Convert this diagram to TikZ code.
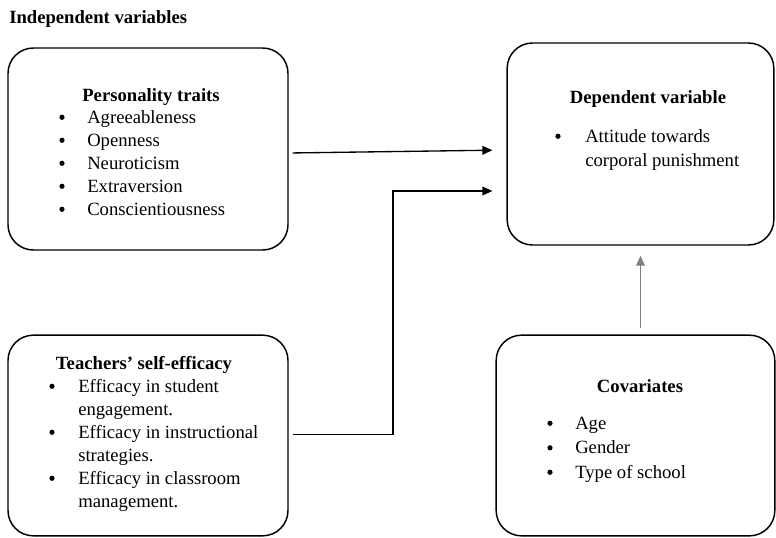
\documentclass[tikz,border=0pt]{standalone}
\usepackage{fontspec}
\setmainfont{Liberation Serif}
\usetikzlibrary{arrows.meta}

\begin{document}
\begin{tikzpicture}[
        x=0.75pt, y=-0.75pt,
        box/.style={
            draw,
            rectangle,
            rounded corners=19pt,
            line width=1.1pt,
            inner sep=0pt
        },
        head/.style={anchor=base, inner sep=0pt, font=\fontsize{14}{17}\selectfont\bfseries},
        item/.style={anchor=base west, inner sep=0pt, font=\fontsize{14}{17}\selectfont},
        bul/.style={circle, fill, inner sep=0pt, minimum size=3.9pt, yshift=4.3pt},
        arrow/.style={-{Triangle[length=7.5pt,width=6.5pt]}, line width=1pt}
    ]
        \useasboundingbox (0,0) rectangle (776,537);

        % Title
        \node[item, font=\fontsize{14}{17}\selectfont\bfseries] (title) at (9,23) {Independent variables};

        % Boxes
        \node[box, minimum width=210pt, minimum height=151.5pt] (pers) at (148,149) {};
        \node[box, minimum width=200pt, minimum height=151.5pt] (dep) at (640.5,144) {};
        \node[box, minimum width=210pt, minimum height=150.5pt] (teach) at (148,435.5) {};
        \node[box, minimum width=209pt, minimum height=150.5pt] (cov) at (635.5,435.5) {};

        % Personality traits
        \node[head] (pers-h) at (151,101) {Personality traits};
        \foreach \i/\t in {0/Agreeableness,1/Openness,2/Neuroticism,3/Extraversion,4/Conscientiousness} {
            \node[bul] (pers-b\i) at (62,123+23*\i) {};
            \node[item] (pers-t\i) at (87,123+23*\i) {\t};
        }

        % Dependent variable
        \node[head] (dep-h) at (648,103) {Dependent variable};
        \node[bul] (dep-b0) at (558,142) {};
        \node[item] (dep-t0) at (585,142) {Attitude towards};
        \node[item] (dep-t1) at (585,166) {corporal punishment};

        % Teachers' self-efficacy
        \node[head] (teach-h) at (144,369) {Teachers’ self-efficacy};
        \foreach \i/\t in {0/Efficacy in student,1/engagement.,2/Efficacy in instructional,3/strategies.,4/Efficacy in classroom,5/management.} {
            \node[item] (teach-t\i) at (78,392+23*\i) {\t};
        }
        \foreach \i in {0,2,4} {
            \node[bul] (teach-b\i) at (52,392+23*\i) {};
        }

        % Covariates
        \node[head] (cov-h) at (640,392) {Covariates};
        \foreach \i/\t in {0/Age,1/Gender,2/Type of school} {
            \node[bul] (cov-b\i) at (550,429+24.5*\i) {};
            \node[item] (cov-t\i) at (575,429+24.5*\i) {\t};
        }

        % Connectors
        \coordinate (elbow) at (393,191);
        \draw[arrow, shorten <=3pt, shorten >=10.5pt] ([yshift=-3pt]pers.east) -- ([yshift=-4.5pt]dep.west);
        \draw[arrow, shorten >=10.5pt] ([xshift=3.5pt,yshift=1pt]teach.east) -| (elbow) -- (elbow -| dep.west);
        \draw[arrow, gray, shorten <=5pt, shorten >=7.5pt] (cov.north -| dep.south) -- (dep.south);
    \end{tikzpicture}
\end{document}
